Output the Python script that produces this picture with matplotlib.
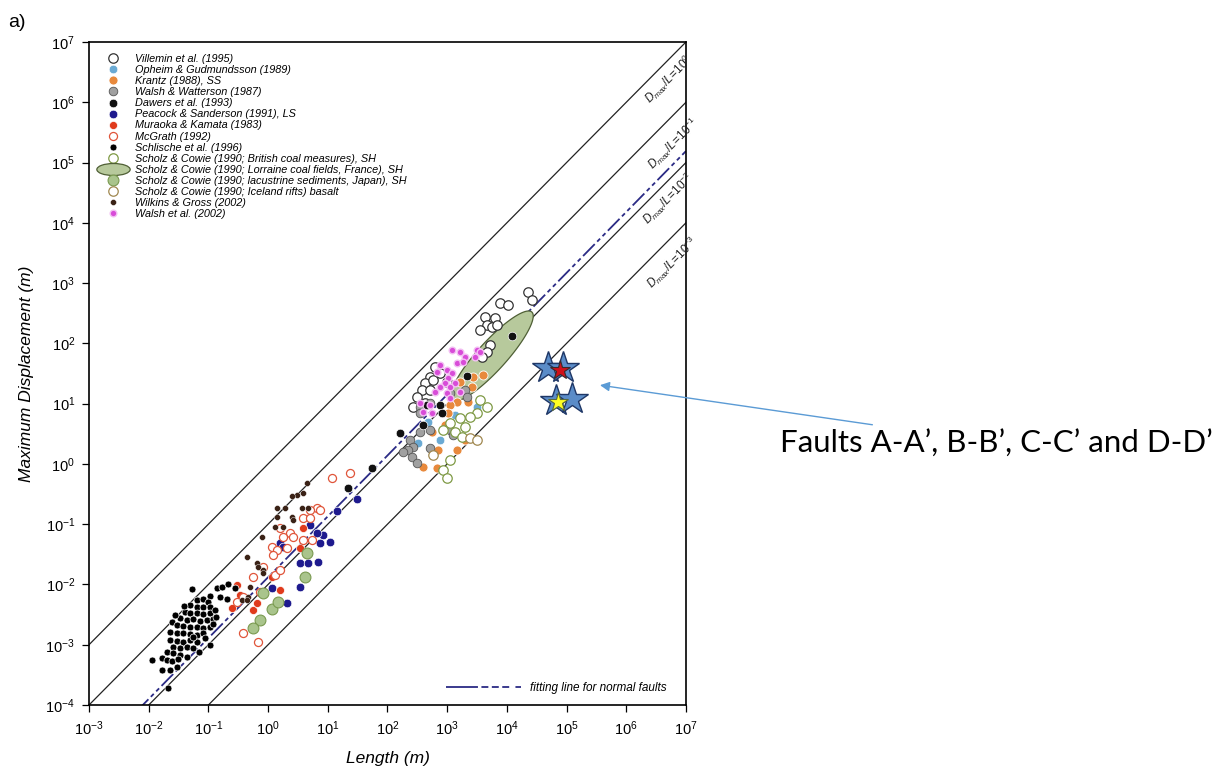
import numpy as np
import matplotlib
matplotlib.use("Agg")
import matplotlib.pyplot as plt
from matplotlib.lines import Line2D
from matplotlib.path import Path
from matplotlib.transforms import Affine2D

plt.rcParams['font.family'] = ['Liberation Sans', 'DejaVu Sans']
plt.rcParams['mathtext.fontset'] = 'custom'
plt.rcParams['mathtext.rm'] = 'Liberation Sans'
plt.rcParams['mathtext.it'] = 'Liberation Sans:italic'
plt.rcParams['mathtext.bf'] = 'Liberation Sans:bold'
plt.rcParams['lines.scale_dashes'] = False

# values, stored as log10 of length (m) and displacement (m)
villemin_logL = [4.35, 4.42, 3.88, 4.02, 3.63, 3.80, 3.67, 3.75, 3.55, 3.83, 3.72, 3.67, 3.58,
                 2.80, 2.71, 2.88, 2.63, 2.58, 2.76, 2.71, 2.49, 2.63, 3.00, 2.43]
villemin_logD = [2.85, 2.72, 2.67, 2.63, 2.43, 2.42, 2.30, 2.27, 2.22, 2.30, 1.97, 1.85, 1.77,
                 1.61, 1.44, 1.51, 1.34, 1.22, 1.39, 1.22, 1.11, 1.01, 1.36, 0.94]

opheim_logL = [3.50, 2.68, 2.51, 2.88, 3.13]
opheim_logD = [0.94, 0.69, 0.34, 0.39, 0.81]

krantz_logL = [3.60, 3.43, 3.42, 3.21, 3.35, 3.16, 3.05, 3.01, 2.85, 3.16, 2.83, 2.59, 2.75, 2.96, 3.30]
krantz_logD = [1.47, 1.44, 1.27, 1.36, 1.02, 1.02, 0.98, 0.84, 0.23, 0.23, -0.07, -0.05, 0.53, 0.64, 0.39]

walsh87_logL = [3.30, 3.33, 3.05, 2.71, 2.54, 2.71, 2.54, 2.38, 2.43, 2.34, 2.41, 2.49, 2.71, 3.05, 3.10, 2.54, 2.26]
walsh87_logD = [1.22, 1.11, 1.17, 1.01, 0.94, 0.56, 0.53, 0.39, 0.28, 0.23, 0.11, 0.01, 0.26, 0.56, 0.48, 0.84, 0.20]

dawers_logL = [4.09, 3.33, 2.88, 2.91, 2.66, 2.59, 2.21, 1.74, 1.34]
dawers_logD = [2.12, 1.46, 0.98, 0.84, 0.98, 0.64, 0.51, -0.07, -0.40]

peacock_logL = [1.49, 1.15, 0.92, 0.82, 1.04, 0.87, 0.53, 0.67, 0.84, 0.53, 0.32, 0.20, 0.07, 0.70, 0.25]
peacock_logD = [-0.58, -0.78, -1.18, -1.15, -1.30, -1.31, -1.65, -1.65, -1.63, -2.04, -2.31, -1.31, -2.06, -1.01, -1.38]

muraoka_logL = [-0.52, -0.25, -0.19, 0.20, 0.58, 0.53, 0.07, -0.60, -0.47]
muraoka_logD = [-2.01, -2.42, -2.31, -2.09, -1.06, -1.40, -1.88, -2.39, -2.18]

mcgrath_logL = [1.07, 1.37, 0.82, 0.70, 0.87, 0.58, 0.70, 0.20, 0.37, 0.25, 0.42, 0.58, 0.74, 0.07,
                0.15, 0.08, 0.32, -0.09, 0.12, 0.20, -0.25, -0.14, -0.42, -0.42, -0.17, -0.52]
mcgrath_logD = [-0.24, -0.15, -0.73, -0.77, -0.77, -0.90, -0.90, -1.06, -1.15, -1.21, -1.21, -1.26, -1.26, -1.38,
                -1.43, -1.51, -1.40, -1.71, -1.84, -1.76, -1.88, -2.13, -2.21, -2.81, -2.96, -2.29]

schlische_logL = [-1.27, -0.86, -0.77, -0.67, -0.97, -0.81, -0.69, -1.19, -1.09, -1.01, -1.31, -1.19,
                  -1.09, -0.97, -1.39, -1.31, -1.19, -1.09, -0.97, -1.48, -1.36, -1.26, -1.14, -1.02,
                  -0.92, -1.61, -1.53, -1.43, -1.31, -1.19, -1.09, -0.97, -1.64, -1.53, -1.43, -1.31,
                  -1.19, -1.09, -1.64, -1.53, -1.43, -1.31, -1.19, -1.59, -1.48, -1.36, -1.26, -1.69,
                  -1.59, -1.48, -1.78, -1.69, -1.61, -1.51, -1.94, -1.78, -1.64, -1.53, -1.68, -0.97,
                  -0.89, -0.87, -1.36, -0.55, -1.25, -1.05, -1.40, -1.56, -1.15, -0.92]
schlische_logD = [-2.08, -2.06, -2.04, -1.99, -2.19, -2.21, -2.24, -2.26, -2.24, -2.29, -2.34, -2.37,
                  -2.37, -2.37, -2.46, -2.47, -2.47, -2.49, -2.47, -2.56, -2.59, -2.57, -2.61, -2.59,
                  -2.57, -2.62, -2.67, -2.69, -2.71, -2.71, -2.72, -2.71, -2.79, -2.81, -2.81, -2.82,
                  -2.84, -2.81, -2.92, -2.94, -2.96, -2.92, -2.96, -3.04, -3.05, -3.04, -3.05, -3.12,
                  -3.14, -3.17, -3.22, -3.25, -3.27, -3.24, -3.25, -3.42, -3.42, -3.37, -3.72, -3.00,
                  -2.42, -2.54, -3.20, -2.06, -2.87, -2.89, -2.35, -2.50, -3.12, -2.66]

british_logL = [3.55, 3.67, 3.50, 3.38, 3.21, 3.30, 3.05, 3.13, 2.93, 3.05, 2.93, 3.00, 3.25]
british_logD = [1.06, 0.94, 0.84, 0.78, 0.76, 0.61, 0.68, 0.53, 0.56, 0.06, -0.10, -0.24, 0.44]

# Lorraine coal fields: one ellipse (centre, half length, half width in decades, tilt in degrees)
lorraine_centre = (3.75, 1.79)
lorraine_axes = (0.99, 0.24)
lorraine_angle = 47.5

lacustrine_logL = [0.65, 0.62, -0.09, 0.07, 0.17, -0.14, -0.25]
lacustrine_logD = [-1.48, -1.88, -2.14, -2.41, -2.29, -2.59, -2.72]

iceland_logL = [3.38, 3.50, 2.76]
iceland_logD = [0.43, 0.39, 0.15]

wilkins_logL = [0.65, 0.48, 0.40, 0.58, 0.28, 0.15, 0.57, 0.67, 0.12, 0.25, 0.15, 0.40, 0.42,
                -0.10, -0.35, -0.19, -0.17, -0.09, -0.09, -0.30, -0.34, -0.44, -0.35]
wilkins_logD = [-0.32, -0.52, -0.53, -0.48, -0.73, -0.73, -0.73, -0.73, -1.05, -1.05, -0.88, -0.88, -0.93,
                -1.21, -1.55, -1.65, -1.71, -1.76, -1.81, -2.04, -2.21, -2.26, -2.26]

walsh02_logL = [3.08, 3.21, 3.50, 3.30, 3.47, 3.16, 3.26, 2.88, 3.00, 3.08, 2.83, 3.01, 2.96,
                3.13, 2.88, 3.05, 2.80, 3.00, 3.21, 2.54, 2.71, 2.59, 2.75, 3.05, 3.55]
walsh02_logD = [1.89, 1.85, 1.89, 1.77, 1.77, 1.67, 1.69, 1.64, 1.56, 1.51, 1.52, 1.42, 1.34,
                1.34, 1.27, 1.27, 1.19, 1.17, 1.19, 1.01, 0.98, 0.86, 0.84, 1.09, 1.85]

# faults of this study (stars)
blue_star_logL = [4.69, 4.94, 4.82, 5.09]
blue_star_logD = [1.59, 1.60, 1.04, 1.07]
red_star_logL, red_star_logD = [4.89], [1.56]
yellow_star_logL, yellow_star_logD = [4.86], [1.03]

ratio_values = [1, 0.1, 0.01, 0.001]
ratio_labels = ['0', '-1', '-2', '-3']
fit_coef, fit_exp = -1.88, 1.01   # log10 D = fit_coef + fit_exp * log10 L

fig = plt.figure(figsize=(12.24, 7.74), dpi=100)
ax = fig.add_axes([0.0727, 0.0891, 0.4877, 0.8566])
ax.set_xscale('log')
ax.set_yscale('log')
ax.set_xlim(1e-3, 1e7)
ax.set_ylim(1e-4, 1e7)

# constant Dmax/L lines
Lline = np.array([1e-4, 1e8])
for c, lab, off in zip(ratio_values, ratio_labels, [2.5, 6, 2, 5]):
    ax.plot(Lline, c * Lline, color='#222222', lw=0.9, zorder=1)
    L0 = 10 ** 6.55
    ax.annotate(r'$D_{max}/L\!=\!10^{%s}$' % lab, xy=(L0, c * L0), xytext=(off, -off),
                textcoords='offset points', rotation=45, rotation_mode='anchor',
                ha='center', va='top', fontsize=8.5, color='#222222')

# fitting line for normal faults
logLf = np.array([-2.2, 7.0])
fit_style = dict(color='#2b2b85', lw=1.3, dashes=(12, 2.5, 3, 2.5, 3, 2.5))
ax.plot(10 ** logLf, 10 ** (fit_coef + fit_exp * logLf), zorder=1.5, **fit_style)

# Lorraine ellipse
t = np.linspace(0, 2 * np.pi, 200)
a, b = lorraine_axes
th = np.deg2rad(lorraine_angle)
ex = lorraine_centre[0] + a * np.cos(t) * np.cos(th) - b * np.sin(t) * np.sin(th)
ey = lorraine_centre[1] + a * np.cos(t) * np.sin(th) + b * np.sin(t) * np.cos(th)
ax.fill(10 ** ex, 10 ** ey, facecolor='#b7c99c', edgecolor='#4f5f35', lw=0.9, zorder=2)

series = [
    ("Villemin et al. (1995)", villemin_logL, villemin_logD,
     dict(marker='o', ms=6.8, mfc='white', mec='#333333', mew=0.9)),
    ("Opheim & Gudmundsson (1989)", opheim_logL, opheim_logD,
     dict(marker='o', ms=6.2, mfc='#6aaad4', mec='white', mew=0.5)),
    ("Krantz (1988), SS", krantz_logL, krantz_logD,
     dict(marker='o', ms=6.5, mfc='#e8893c', mec='white', mew=0.6)),
    ("Walsh & Watterson (1987)", walsh87_logL, walsh87_logD,
     dict(marker='o', ms=6.2, mfc='#a0a0a0', mec='#555555', mew=0.6)),
    ("Dawers et al. (1993)", dawers_logL, dawers_logD,
     dict(marker='o', ms=6.2, mfc='#111111', mec='white', mew=0.5)),
    ("Peacock & Sanderson (1991), LS", peacock_logL, peacock_logD,
     dict(marker='o', ms=6.2, mfc='#1e1a8e', mec='white', mew=0.5)),
    ("Muraoka & Kamata (1983)", muraoka_logL, muraoka_logD,
     dict(marker='o', ms=5.8, mfc='#e03a1c', mec='white', mew=0.5)),
    ("McGrath (1992)", mcgrath_logL, mcgrath_logD,
     dict(marker='o', ms=5.8, mfc='white', mec='#e0553a', mew=0.9)),
    ("Schlische et al. (1996)", schlische_logL, schlische_logD,
     dict(marker='o', ms=5, mfc='black', mec='white', mew=0.5)),
    ("Scholz & Cowie (1990; British coal measures), SH", british_logL, british_logD,
     dict(marker='o', ms=6.8, mfc='white', mec='#7f9a45', mew=0.9)),
    ("Scholz & Cowie (1990; lacustrine sediments, Japan), SH", lacustrine_logL, lacustrine_logD,
     dict(marker='o', ms=7.8, mfc='#a9c48c', mec='#7a9a50', mew=0.8)),
    ("Scholz & Cowie (1990; Iceland rifts) basalt", iceland_logL, iceland_logD,
     dict(marker='o', ms=6.8, mfc='white', mec='#a08850', mew=0.9)),
    ("Wilkins & Gross (2002)", wilkins_logL, wilkins_logD,
     dict(marker='o', ms=4.3, mfc='#3a2216', mec='white', mew=0.3)),
    ("Walsh et al. (2002)", walsh02_logL, walsh02_logD,
     dict(marker='o', ms=4.8, mfc='#d84cd8', mec='#f3c0f3', mew=1.0)),
]

handles = {}
for name, lx, ly, st in series:
    ax.plot(10 ** np.array(lx), 10 ** np.array(ly), ls='none', zorder=3, **st)
    handles[name] = Line2D([], [], ls='none', **st)

ell_path = Path.unit_circle().transformed(Affine2D().scale(1, 0.36))
handles["Scholz & Cowie (1990; Lorraine coal fields, France), SH"] = Line2D(
    [], [], ls='none', marker=ell_path, ms=24, mfc='#b7c99c', mec='#4f5f35', mew=0.9)

order = ["Villemin et al. (1995)", "Opheim & Gudmundsson (1989)", "Krantz (1988), SS",
         "Walsh & Watterson (1987)", "Dawers et al. (1993)", "Peacock & Sanderson (1991), LS",
         "Muraoka & Kamata (1983)", "McGrath (1992)", "Schlische et al. (1996)",
         "Scholz & Cowie (1990; British coal measures), SH",
         "Scholz & Cowie (1990; Lorraine coal fields, France), SH",
         "Scholz & Cowie (1990; lacustrine sediments, Japan), SH",
         "Scholz & Cowie (1990; Iceland rifts) basalt", "Wilkins & Gross (2002)", "Walsh et al. (2002)"]

leg = ax.legend([handles[k] for k in order], order, loc='upper left', bbox_to_anchor=(0.027, 0.982),
                frameon=False, borderpad=0, borderaxespad=0, handlelength=1.4, handletextpad=1.4,
                labelspacing=0.1, prop={'size': 7.8, 'style': 'italic'})
ax.add_artist(leg)

fit_handle = Line2D([], [], color='#2b2b85', lw=1.3, dashes=(23, 2.5, 5, 2.5, 5, 2.5, 5, 4.5))
ax.legend([fit_handle], ['fitting line for normal faults'], loc='center right',
          bbox_to_anchor=(0.968, 0.026), frameon=False, borderpad=0, borderaxespad=0,
          handlelength=6.3, handletextpad=0.8, prop={'size': 8.5, 'style': 'italic'})

# stars
ax.plot(10 ** np.array(blue_star_logL), 10 ** np.array(blue_star_logD), ls='none', marker='*',
        ms=24, mfc='#5b8cc8', mec='#1f3766', mew=1.0, zorder=5)
ax.plot(10 ** np.array(red_star_logL), 10 ** np.array(red_star_logD), ls='none', marker='*',
        ms=15, mfc='#d0101a', mec='#3a2a2a', mew=0.8, zorder=6)
ax.plot(10 ** np.array(yellow_star_logL), 10 ** np.array(yellow_star_logD), ls='none', marker='*',
        ms=15, mfc='#ffff22', mec='#5a6a3a', mew=0.8, zorder=6)

ax.set_xticks([10.0 ** k for k in range(-3, 8)])
ax.set_yticks([10.0 ** k for k in range(-4, 8)])
ax.minorticks_off()
ax.tick_params(direction='out', length=5, width=0.9, labelsize=10.5, pad=5)
for s in ax.spines.values():
    s.set_linewidth(1.2)

ax.set_xlabel('Length (m)', fontsize=12.5, style='italic', labelpad=10)
ax.set_ylabel('Maximum Displacement (m)', fontsize=12.5, style='italic', labelpad=8)

fig.text(0.007, 0.965, 'a)', fontsize=14)

ax.annotate('Faults A-A’, B-B’, C-C’ and D-D’', xy=(10 ** 5.56, 10 ** 1.307), xycoords='data',
            xytext=(0.637, 0.428), textcoords='figure fraction', fontsize=22.5,
            family=['Lato', 'DejaVu Sans'], ha='left', va='center', annotation_clip=False,
            arrowprops=dict(arrowstyle='-|>', color='#5b9bd5', lw=1.0, shrinkA=6, shrinkB=0,
                            mutation_scale=14))

fig.savefig('out.png', dpi=100)
